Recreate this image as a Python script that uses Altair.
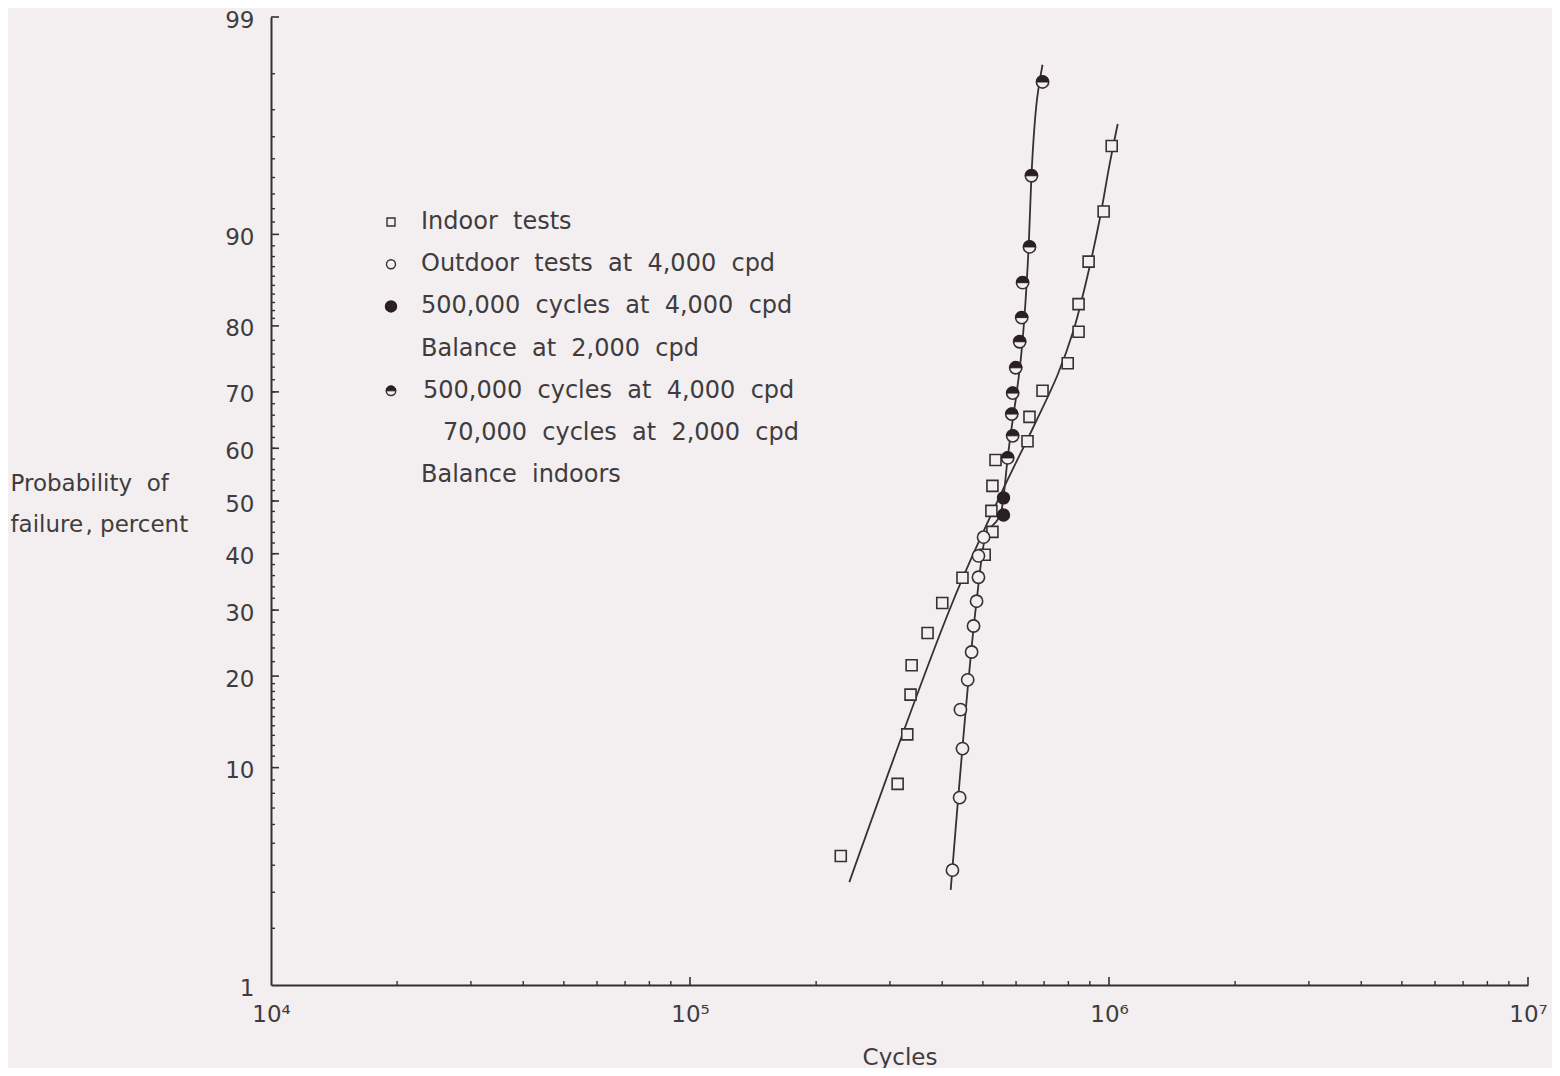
import altair as alt
import pandas as pd
from statistics import NormalDist

# ---------------- data ----------------
indoor_cycles = [229000, 313000, 330000, 336000, 338000, 369000, 400000, 447000,
                 505000, 527000, 524000, 527000, 536000, 639000, 646000, 694000,
                 797000, 846000, 846000, 894000, 971000, 1015000]
indoor_pct = [4.4, 8.7, 13.1, 17.6, 21.5, 26.3, 31.2, 35.6, 39.8, 44.1, 48.1, 52.9,
              57.8, 61.3, 65.7, 70.2, 74.6, 79.2, 82.8, 87.5, 91.8, 95.6]

outdoor_cycles = [423000, 440000, 447000, 442000, 460000, 470000, 475000, 483000,
                  488000, 488000, 502000]
outdoor_pct = [3.8, 7.7, 11.7, 15.8, 19.5, 23.4, 27.4, 31.5, 35.7, 39.6, 43.1]

solid_cycles = [560000, 560000]
solid_pct = [47.3, 50.6]

half_cycles = [573000, 589000, 586000, 589000, 599000, 612000, 619000, 622000,
               646000, 653000, 694000]
half_pct = [58.2, 62.3, 66.2, 69.8, 73.9, 77.8, 81.1, 85.3, 88.9, 94.1, 97.8]

indoor_fit_cycles = [240000, 421000, 548000, 664000, 754000, 823000, 884000, 950000,
                     1003000, 1049000]
indoor_fit_pct = [3.35, 30.9, 50.8, 64.3, 72.8, 79.4, 85.6, 91.2, 94.7, 96.5]

outdoor_fit_cycles = [419000, 483000, 505000, 554000, 573000, 643000, 653000, 694000]
outdoor_fit_pct = [3.08, 31.5, 42.6, 48.3, 58.2, 88.9, 94.1, 98.2]

y_major = [1, 10, 20, 30, 40, 50, 60, 70, 80, 90, 99]
y_minor = (list(range(2, 10)) + list(range(11, 20)) + list(range(22, 80, 2))
           + list(range(81, 90)) + list(range(91, 99)))
x_major = [1e4, 1e5, 1e6, 1e7]
x_minor = [m * 10 ** k for k in (4, 5, 6) for m in range(2, 10)]

legend_labels = ["Indoor tests", "Outdoor tests at 4,000 cpd",
                 "500,000 cycles at 4,000 cpd", "Balance at 2,000 cpd",
                 "500,000 cycles at 4,000 cpd", "70,000 cycles at 2,000 cpd",
                 "Balance indoors"]
legend_markers = ["square", "circle", "solid", "", "half", "", ""]
legend_indent = [0, 0, 0, 0, 2, 22, 0]

# ---------------- helpers ----------------
ND = NormalDist()


def zval(p):
    return ND.inv_cdf(p / 100.0)


def frame(cycles, pct):
    return pd.DataFrame({"cycles": cycles, "pct": pct, "z": [zval(p) for p in pct]})


def spaced(s):
    # wide word spacing as in the original lettering
    return s.replace(" ", "\u00a0\u00a0")


BG = "#f3eff0"
INK = "#343033"
DARK = "#2a1f25"
TEXT = "#403c3e"
FONT = "DejaVu Sans"
FS = 23
W, H = 1257, 968
HALF_PATH = "M -1 0 A 1 1 0 0 1 1 0 Z"

xscale = alt.Scale(type="log", domain=[1e4, 1e7], nice=False)
yscale = alt.Scale(domain=[zval(1), zval(99)], nice=False, zero=False)

ylab_expr = ""
for p in sorted(y_major, reverse=True):
    ylab_expr += f"datum.value > {zval(p) - 0.02:.4f} ? '{p}' : "
ylab_expr += "''"
xlab_expr = ("datum.value > 5e6 ? '10\u2077' : datum.value > 5e5 ? '10\u2076' : "
             "datum.value > 5e4 ? '10\u2075' : '10\u2074'")

x_axis = alt.Axis(values=x_major, labelExpr=xlab_expr, ticks=False, tickSize=0,
                  labelPadding=18, labelFlush=False, labelFontSize=FS, labelFont=FONT,
                  labelColor=TEXT, domainColor=INK, domainWidth=2, grid=False,
                  title="Cycles", titleFont=FONT, titleFontSize=FS,
                  titleFontWeight="normal", titleColor=TEXT, titleY=72,
                  titleBaseline="middle")
y_axis = alt.Axis(values=[zval(p) for p in y_major], labelExpr=ylab_expr, ticks=False,
                  tickSize=0, labelPadding=17, labelOffset=3, labelFontSize=FS,
                  labelFont=FONT, labelColor=TEXT, labelOverlap=False,
                  domainColor=INK, domainWidth=2, grid=False,
                  title=["Probability\u00a0\u00a0of", "failure\u200a, percent"],
                  titleAngle=0, titleAlign="left", titleBaseline="alphabetic",
                  titleX=-261, titleY=473, titleFont=FONT, titleFontSize=FS,
                  titleFontWeight="normal", titleColor=TEXT, titleLineHeight=41)

X = alt.X("cycles:Q", scale=xscale, axis=x_axis)
Y = alt.Y("z:Q", scale=yscale, axis=y_axis)

layers = []

# fitted curves
layers.append(
    alt.Chart(frame(indoor_fit_cycles, indoor_fit_pct))
    .mark_line(color=INK, strokeWidth=1.8, interpolate="catmull-rom")
    .encode(x=X, y=Y)
)
layers.append(
    alt.Chart(frame(outdoor_fit_cycles, outdoor_fit_pct))
    .mark_line(color=INK, strokeWidth=1.8, interpolate="monotone")
    .encode(x=X, y=Y)
)

# tick marks pointing into the plot
ymaj = pd.DataFrame({"z": [zval(p) for p in y_major[1:]]})
ymin = pd.DataFrame({"z": [zval(p) for p in y_minor]})
layers.append(alt.Chart(ymaj).mark_rule(color=INK, strokeWidth=1.6)
              .encode(y=Y, x=alt.value(0), x2=alt.value(8)))
layers.append(alt.Chart(ymin).mark_rule(color=INK, strokeWidth=1.4)
              .encode(y=Y, x=alt.value(0), x2=alt.value(4)))
xmaj = pd.DataFrame({"cycles": x_major[1:]})
xmin = pd.DataFrame({"cycles": x_minor})
layers.append(alt.Chart(xmaj).mark_rule(color=INK, strokeWidth=1.6)
              .encode(x=X, y=alt.value(H), y2=alt.value(H - 8)))
layers.append(alt.Chart(xmin).mark_rule(color=INK, strokeWidth=1.4)
              .encode(x=X, y=alt.value(H), y2=alt.value(H - 4)))

# data points
layers.append(
    alt.Chart(frame(indoor_cycles, indoor_pct))
    .mark_point(shape="square", size=121, filled=True, fill=BG, stroke=INK,
                strokeWidth=1.6, opacity=1)
    .encode(x=X, y=Y)
)
layers.append(
    alt.Chart(frame(outdoor_cycles, outdoor_pct))
    .mark_point(shape="circle", size=150, filled=True, fill=BG, stroke=INK,
                strokeWidth=1.6, opacity=1)
    .encode(x=X, y=Y)
)
layers.append(
    alt.Chart(frame(solid_cycles, solid_pct))
    .mark_point(shape="circle", size=150, filled=True, fill=DARK, stroke=DARK,
                strokeWidth=1.2, opacity=1)
    .encode(x=X, y=Y)
)
half_df = frame(half_cycles, half_pct)
layers.append(
    alt.Chart(half_df)
    .mark_point(shape="circle", size=150, filled=True, fill=BG, stroke=INK,
                strokeWidth=1.6, opacity=1)
    .encode(x=X, y=Y)
)
layers.append(
    alt.Chart(half_df)
    .mark_point(shape=HALF_PATH, size=150, filled=True, fill=DARK, stroke=DARK,
                strokeWidth=1, opacity=1)
    .encode(x=X, y=Y)
)

# legend (drawn inside the plot)
one = pd.DataFrame({"k": [0]})
LX, TX, LY0, DY = 120, 150, 205, 42.2
for i, (lab, mk, ind) in enumerate(zip(legend_labels, legend_markers, legend_indent)):
    yy = LY0 + DY * i
    if mk == "square":
        layers.append(alt.Chart(one).mark_point(shape="square", size=64, filled=True,
                                                fill=BG, stroke=INK, strokeWidth=1.4,
                                                opacity=1)
                      .encode(x=alt.value(LX), y=alt.value(yy)))
    elif mk == "circle":
        layers.append(alt.Chart(one).mark_point(shape="circle", size=81, filled=True,
                                                fill=BG, stroke=INK, strokeWidth=1.4,
                                                opacity=1)
                      .encode(x=alt.value(LX), y=alt.value(yy)))
    elif mk == "solid":
        layers.append(alt.Chart(one).mark_point(shape="circle", size=110, filled=True,
                                                fill=DARK, stroke=DARK, opacity=1)
                      .encode(x=alt.value(LX), y=alt.value(yy)))
    elif mk == "half":
        layers.append(alt.Chart(one).mark_point(shape="circle", size=90, filled=True,
                                                fill=BG, stroke=INK, strokeWidth=1.4,
                                                opacity=1)
                      .encode(x=alt.value(LX), y=alt.value(yy)))
        layers.append(alt.Chart(one).mark_point(shape=HALF_PATH, size=90, filled=True,
                                                fill=DARK, stroke=DARK, strokeWidth=1,
                                                opacity=1)
                      .encode(x=alt.value(LX), y=alt.value(yy)))
    layers.append(alt.Chart(one).mark_text(align="left", baseline="middle", font=FONT,
                                           fontSize=24, color=TEXT)
                  .encode(x=alt.value(TX + ind), y=alt.value(yy),
                          text=alt.value(spaced(lab))))

chart = (
    alt.layer(*layers)
    .properties(width=W, height=H, background=BG,
                padding={"left": 263, "top": 9, "right": 24, "bottom": 83},
                autosize=alt.AutoSizeParams(type="none"))
    .configure_view(stroke=None)
)

chart.save("out.html", embed_options={"renderer": "svg", "actions": False})
